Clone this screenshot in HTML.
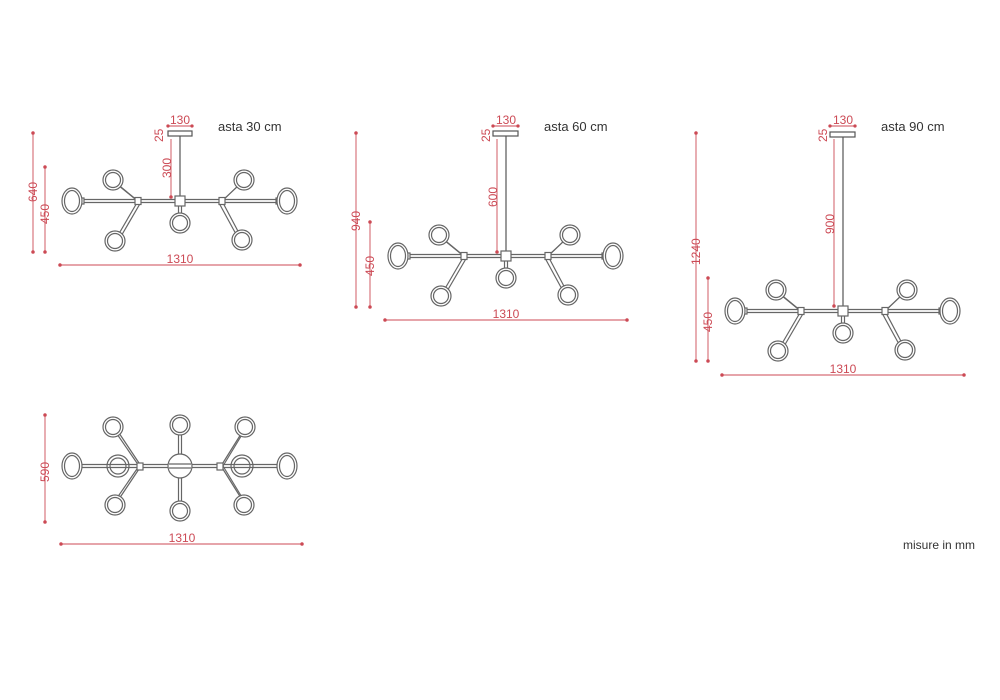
<!DOCTYPE html>
<html><head><meta charset="utf-8"><style>
html,body{margin:0;padding:0;background:#fff;}
svg{display:block;}
.r{fill:#cc4a55;font-family:"Liberation Sans",sans-serif;font-size:12px;}
.t{fill:#333;font-family:"Liberation Sans",sans-serif;font-size:13px;}
</style></head><body>
<svg width="1000" height="700" viewBox="0 0 1000 700" xmlns="http://www.w3.org/2000/svg">
<defs>
<g id="ch" fill="none" stroke="#666" stroke-width="1.2">
  <line x1="-100" y1="-1.5" x2="100" y2="-1.5"/><line x1="-100" y1="1.5" x2="100" y2="1.5"/>
  <line x1="-42" y1="0" x2="-64" y2="-18"/><line x1="-40" y1="2" x2="-62" y2="-16" />
  <line x1="-42" y1="0" x2="-63" y2="36"/><line x1="-39" y1="1" x2="-60" y2="37"/>
  <line x1="42" y1="0" x2="61" y2="-18"/><line x1="40" y1="2" x2="59" y2="-16"/>
  <line x1="42" y1="0" x2="60" y2="34"/><line x1="39" y1="2" x2="57" y2="35"/>
  <line x1="-1.5" y1="0" x2="-1.5" y2="12"/><line x1="1.5" y1="0" x2="1.5" y2="12"/>
  <rect x="-5" y="-5" width="10" height="10" fill="#fff"/>
  <rect x="-45" y="-3.5" width="6" height="7" fill="#fff"/>
  <rect x="39" y="-3.5" width="6" height="7" fill="#fff"/>
  <rect x="-100" y="-3" width="4" height="6" fill="#fff"/>
  <rect x="96" y="-3" width="4" height="6" fill="#fff"/>
  <ellipse cx="-108" cy="0" rx="10" ry="13" fill="#fff"/><ellipse cx="-108" cy="0" rx="7.5" ry="10.5"/>
  <ellipse cx="107" cy="0" rx="10" ry="13" fill="#fff"/><ellipse cx="107" cy="0" rx="7.5" ry="10.5"/>
  <circle cx="-67" cy="-21" r="10" fill="#fff"/><circle cx="-67" cy="-21" r="7.5"/>
  <circle cx="64" cy="-21" r="10" fill="#fff"/><circle cx="64" cy="-21" r="7.5"/>
  <ellipse cx="-65" cy="40" rx="10" ry="10" fill="#fff"/><ellipse cx="-65" cy="40" rx="7.5" ry="7.5"/>
  <ellipse cx="62" cy="39" rx="10" ry="10" fill="#fff"/><ellipse cx="62" cy="39" rx="7.5" ry="7.5"/>
  <circle cx="0" cy="22" r="10" fill="#fff"/><circle cx="0" cy="22" r="7.5"/>
</g>
</defs>
<g stroke="#555" fill="#fff" stroke-width="1.2">
  <rect x="168" y="131" width="24" height="5"/>
  <line x1="180" y1="136" x2="180" y2="198"/>
  <rect x="493" y="131" width="25" height="5"/>
  <line x1="506" y1="136" x2="506" y2="253"/>
  <rect x="830" y="132" width="25" height="5"/>
  <line x1="843" y1="137" x2="843" y2="307"/>
</g>
<use href="#ch" x="180" y="201"/>
<use href="#ch" x="506" y="256"/>
<use href="#ch" x="843" y="311"/>

<g stroke="#cc4a55" stroke-width="0.9" fill="#cc4a55">
  <line x1="33" y1="133" x2="33" y2="252"/><circle cx="33" cy="133" r="1.3"/><circle cx="33" cy="252" r="1.3"/>
  <line x1="45" y1="167" x2="45" y2="252"/><circle cx="45" cy="167" r="1.3"/><circle cx="45" cy="252" r="1.3"/>
  <line x1="60" y1="265" x2="300" y2="265"/><circle cx="60" cy="265" r="1.3"/><circle cx="300" cy="265" r="1.3"/>
  <line x1="171" y1="139" x2="171" y2="197"/><circle cx="171" cy="197" r="1.3"/>
  <line x1="168" y1="126" x2="192" y2="126"/><circle cx="168" cy="126" r="1.2"/><circle cx="192" cy="126" r="1.2"/>

  <line x1="356" y1="133" x2="356" y2="307"/><circle cx="356" cy="133" r="1.3"/><circle cx="356" cy="307" r="1.3"/>
  <line x1="370" y1="222" x2="370" y2="307"/><circle cx="370" cy="222" r="1.3"/><circle cx="370" cy="307" r="1.3"/>
  <line x1="385" y1="320" x2="627" y2="320"/><circle cx="385" cy="320" r="1.3"/><circle cx="627" cy="320" r="1.3"/>
  <line x1="497" y1="139" x2="497" y2="252"/><circle cx="497" cy="252" r="1.3"/>
  <line x1="493" y1="126" x2="518" y2="126"/><circle cx="493" cy="126" r="1.2"/><circle cx="518" cy="126" r="1.2"/>

  <line x1="696" y1="133" x2="696" y2="361"/><circle cx="696" cy="133" r="1.3"/><circle cx="696" cy="361" r="1.3"/>
  <line x1="708" y1="278" x2="708" y2="361"/><circle cx="708" cy="278" r="1.3"/><circle cx="708" cy="361" r="1.3"/>
  <line x1="722" y1="375" x2="964" y2="375"/><circle cx="722" cy="375" r="1.3"/><circle cx="964" cy="375" r="1.3"/>
  <line x1="834" y1="139" x2="834" y2="306"/><circle cx="834" cy="306" r="1.3"/>
  <line x1="830" y1="126" x2="855" y2="126"/><circle cx="830" cy="126" r="1.2"/><circle cx="855" cy="126" r="1.2"/>

  <line x1="45" y1="415" x2="45" y2="522"/><circle cx="45" cy="415" r="1.3"/><circle cx="45" cy="522" r="1.3"/>
  <line x1="61" y1="544" x2="302" y2="544"/><circle cx="61" cy="544" r="1.3"/><circle cx="302" cy="544" r="1.3"/>
</g>
<g class="r">
  <text x="180" y="124" text-anchor="middle">130</text>
  <text x="506" y="124" text-anchor="middle">130</text>
  <text x="843" y="124" text-anchor="middle">130</text>
  <text transform="translate(163,142) rotate(-90)">25</text>
  <text transform="translate(490,142) rotate(-90)">25</text>
  <text transform="translate(827,142) rotate(-90)">25</text>
  <text transform="translate(171,178) rotate(-90)">300</text>
  <text transform="translate(497,207) rotate(-90)">600</text>
  <text transform="translate(834,234) rotate(-90)">900</text>
  <text transform="translate(37,202) rotate(-90)">640</text>
  <text transform="translate(49,224) rotate(-90)">450</text>
  <text transform="translate(360,231) rotate(-90)">940</text>
  <text transform="translate(374,276) rotate(-90)">450</text>
  <text transform="translate(700,265) rotate(-90)">1240</text>
  <text transform="translate(712,332) rotate(-90)">450</text>
  <text transform="translate(49,482) rotate(-90)">590</text>
  <text x="180" y="263" text-anchor="middle">1310</text>
  <text x="506" y="318" text-anchor="middle">1310</text>
  <text x="843" y="373" text-anchor="middle">1310</text>
  <text x="182" y="542" text-anchor="middle">1310</text>
</g>
<g class="t">
  <text x="218" y="131">asta 30 cm</text>
  <text x="544" y="131">asta 60 cm</text>
  <text x="881" y="131">asta 90 cm</text>
  <text x="903" y="549" style="font-size:12px">misure in mm</text>
</g>

<g fill="none" stroke="#666" stroke-width="1.2">
  <line x1="80" y1="464.5" x2="280" y2="464.5"/><line x1="80" y1="467.5" x2="280" y2="467.5"/>
  <line x1="178.5" y1="432" x2="178.5" y2="502"/><line x1="181.5" y1="432" x2="181.5" y2="502"/>
  <line x1="139" y1="466" x2="117" y2="434"/><line x1="141" y1="466" x2="119" y2="433"/>
  <line x1="139" y1="466" x2="117" y2="498"/><line x1="141" y1="466" x2="119" y2="499"/>
  <line x1="221" y1="466" x2="241" y2="434"/><line x1="223" y1="466" x2="243" y2="433"/>
  <line x1="221" y1="466" x2="241" y2="498"/><line x1="223" y1="466" x2="243" y2="499"/>
  <g fill="#fff">
    <circle cx="113" cy="427" r="10"/><circle cx="245" cy="427" r="10"/>
    <circle cx="115" cy="505" r="10"/><circle cx="244" cy="505" r="10"/>
    <circle cx="180" cy="425" r="10"/><circle cx="180" cy="511" r="10"/>
    <ellipse cx="72" cy="466" rx="10" ry="13"/><ellipse cx="287" cy="466" rx="10" ry="13"/>
    <circle cx="180" cy="466" r="12"/>
    <rect x="137" y="463" width="6" height="7"/><rect x="217" y="463" width="6" height="7"/>
  </g>
  <circle cx="113" cy="427" r="7.5"/><circle cx="245" cy="427" r="7.5"/>
  <circle cx="115" cy="505" r="7.5"/><circle cx="244" cy="505" r="7.5"/>
  <circle cx="180" cy="425" r="7.5"/><circle cx="180" cy="511" r="7.5"/>
  <ellipse cx="72" cy="466" rx="7.5" ry="10.5"/><ellipse cx="287" cy="466" rx="7.5" ry="10.5"/>
  <circle cx="118" cy="466" r="11"/><circle cx="118" cy="466" r="8"/>
  <circle cx="242" cy="466" r="11"/><circle cx="242" cy="466" r="8"/>
  <line x1="169" y1="464" x2="191" y2="464"/><line x1="169" y1="468" x2="191" y2="468"/>
</g>
</svg>
</body></html>
